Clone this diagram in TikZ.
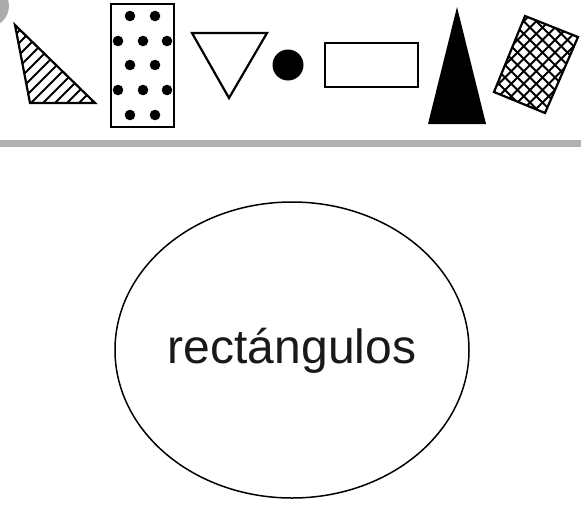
\documentclass[tikz,border=0pt]{standalone}
\usepackage{fontspec}
\setmainfont{Liberation Sans}
\usetikzlibrary{shapes.geometric}
\begin{document}
\begin{tikzpicture}[x=1pt,y=-1pt,
  shapeline/.style={draw=black,line width=2.2pt,line join=miter},
  hatchline/.style={black,line width=1.8pt},
  dotfill/.style={fill=black}]
\useasboundingbox (0,0) rectangle (581,504);
% gray corner mark
\fill[gray!65] (-12,6) circle (21);
% gray separator bar
\fill[gray!60] (0,140) rectangle (581,147);
% hatched triangle
\begin{scope}
  \clip (15,25) -- (30,103) -- (95,103) -- cycle;
  \foreach \k in {0,...,14} {
    \draw[hatchline] (\k*12-72,110) -- ++(110,-110);
  }
\end{scope}
\draw[shapeline] (15,25) -- (30,103) -- (95,103) -- cycle;
% dotted rectangle
\draw[shapeline] (111,4) rectangle (174,127);
\foreach \x/\y in {130/16,155/16,118/41,143/41,167/41,130/65,155/65,118/90,143/90,167/90,130/115,155/115} {
  \fill[dotfill] (\x,\y) circle (5.3);
}
% down triangle
\draw[shapeline] (192,33) -- (267,33) -- (229,98) -- cycle;
% filled circle
\fill (288,65) circle (15.5);
% rectangle
\draw[shapeline] (325,43) rectangle (418,87);
% black tall triangle
\fill (457,7) -- (428,124) -- (486,124) -- cycle;
% cross hatched rectangle
\begin{scope}
  \clip (525,16) -- (578,37) -- (545,113) -- (494,92) -- cycle;
  \foreach \k in {-10,...,12} {
    \draw[hatchline,line width=1.8pt] (490+\k*12.5,0) -- ++(130,130);
    \draw[hatchline,line width=1.8pt] (490+\k*12.5,130) -- ++(130,-130);
  }
\end{scope}
\draw[shapeline] (525,16) -- (578,37) -- (545,113) -- (494,92) -- cycle;
% ellipse with label
\node[draw=black,line width=1.5pt,ellipse,minimum width=354pt,minimum height=296pt,inner sep=0pt] (ell) at (292,350) {};
\node[anchor=base,font=\fontsize{48}{50}\selectfont,text=black!90] (lbl) at (292,363) {rectángulos};
\end{tikzpicture}
\end{document}
